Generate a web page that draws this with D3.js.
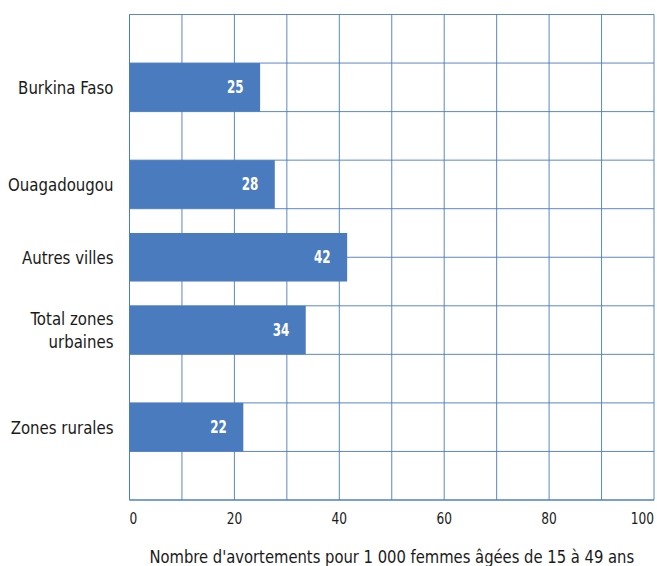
<!DOCTYPE html>
<html>
<head>
<meta charset="utf-8">
<script src="https://cdn.jsdelivr.net/npm/d3@7"></script>
<style>
  html, body { margin: 0; padding: 0; background: #fff; }
  svg { display: block; }
  text { font-family: "DejaVu Sans Condensed", "DejaVu Sans", sans-serif; font-stretch: condensed; fill: #1a1a1a; }
</style>
</head>
<body>
<svg id="chart" width="657" height="566"></svg>
<script>
// ---- data ----
const categories = ["Burkina Faso", "Ouagadougou", "Autres villes", "Total zones urbaines", "Zones rurales"];
const values = [24.9, 27.7, 41.5, 33.6, 21.7];
const valueLabels = ["25", "28", "42", "34", "22"];
const xTicks = [0, 20, 40, 60, 80, 100];
const axisTitle = "Nombre d'avortements pour 1 000 femmes âgées de 15 à 49 ans";

// ---- layout (not data) ----
const rowCenters = [1.5, 3.5, 5, 6.5, 8.5]; // in grid-row units
const catLines = { "Total zones urbaines": ["Total zones", "urbaines"] };
const pL = 129.5, pR = 654, pT = 14.5, pB = 500;
const barColor = "#4a7bbf", gridColor = "#4a7cc2";

const svg = d3.select("#chart");
const x = d3.scaleLinear().domain([0, 100]).range([pL, pR]);
const y = d3.scaleLinear().domain([0, 10]).range([pT, pB]);

const tr = (tx, ty, sx) => `translate(${tx},${ty}) scale(${sx},1)`;

// vertical grid
svg.append("g").selectAll("line").data(d3.range(0, 101, 10)).join("line")
  .attr("x1", d => x(d)).attr("x2", d => x(d))
  .attr("y1", pT).attr("y2", pB)
  .attr("stroke", gridColor).attr("stroke-width", 1).attr("opacity", 0.9);

// bars
const data = categories.map((c, i) => ({ c, v: values[i], lab: valueLabels[i], pos: rowCenters[i] }));
svg.append("g").selectAll("rect").data(data).join("rect")
  .attr("x", x(0)).attr("y", d => y(d.pos - 0.5))
  .attr("width", d => x(d.v) - x(0))
  .attr("height", d => y(d.pos + 0.5) - y(d.pos - 0.5))
  .attr("fill", barColor);

// horizontal grid (over bars)
svg.append("g").selectAll("line").data(d3.range(0, 11, 1)).join("line")
  .attr("x1", pL).attr("x2", pR)
  .attr("y1", d => y(d)).attr("y2", d => y(d))
  .attr("stroke", gridColor).attr("stroke-width", 1).attr("opacity", 0.9);

svg.append("line").attr("x1", pL).attr("x2", pL).attr("y1", pT).attr("y2", pB).attr("stroke", gridColor);
svg.append("line").attr("x1", pL).attr("x2", pR).attr("y1", pB).attr("y2", pB).attr("stroke", gridColor);

// value labels
svg.append("g").selectAll("text").data(data).join("text")
  .attr("transform", d => tr(x(d.v) - 16.5, y(d.pos) + 6, 0.78))
  .attr("text-anchor", "end")
  .style("fill", "#fff").style("font-weight", "bold").style("font-size", "17px")
  .text(d => d.lab);

// category labels
svg.append("g").selectAll("g").data(data).join("g")
  .each(function(d) {
    const lines = catLines[d.c] || [d.c];
    const lh = 23;
    const g = d3.select(this);
    lines.forEach((ln, k) => {
      const yy = y(d.pos) - (lines.length - 1) * lh / 2 + k * lh + 6.7;
      g.append("text")
        .attr("transform", tr(113.5, yy, 0.925))
        .attr("text-anchor", "end")
        .style("font-size", "18px")
        .text(ln);
    });
  });

// x tick labels
svg.append("g").selectAll("text").data(xTicks).join("text")
  .attr("transform", d => tr(x(d), 524, 0.82))
  .attr("text-anchor", (d, i) => i === 0 ? "start" : (i === xTicks.length - 1 ? "end" : "middle"))
  .style("font-size", "16.5px")
  .text(d => d);

// axis title
svg.append("text")
  .attr("transform", tr((pL + pR) / 2, 562.5, 0.945))
  .attr("text-anchor", "middle")
  .style("font-size", "17.4px")
  .text(axisTitle);
</script>
</body>
</html>
